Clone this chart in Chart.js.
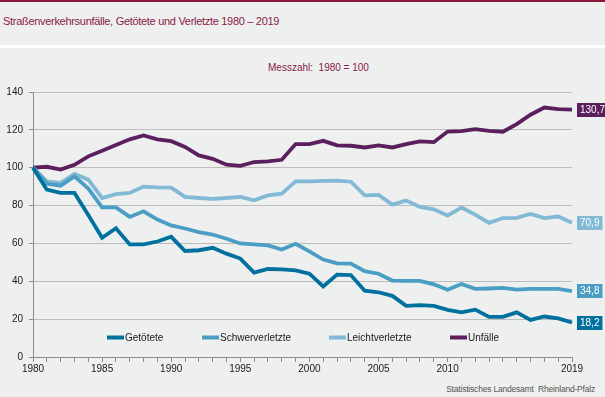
<!DOCTYPE html>
<html lang="de">
<head>
<meta charset="utf-8">
<script src="https://cdn.jsdelivr.net/npm/chart.js@4.4.1/dist/chart.umd.min.js"></script>
<style>
  html, body { margin: 0; padding: 0; }
  body { width: 605px; height: 397px; background: #eeefef; position: relative; overflow: hidden;
         font-family: "Liberation Sans", Arial, sans-serif; }
  #topbar { position: absolute; left: 0; top: 0; width: 605px; height: 2px; background: #8a1a3c; }
  #title { position: absolute; left: 3px; top: 15px; font-size: 11px; letter-spacing: -0.3px; color: #8a1a45; white-space: nowrap; }
  #sep { position: absolute; left: 0; top: 45px; width: 605px; height: 3px; background: #ffffff; }
  #sub { position: absolute; left: 268px; top: 62px; font-size: 10px; color: #8a1a45; white-space: nowrap; }
  #src { position: absolute; right: 10px; top: 384px; font-size: 8.5px; letter-spacing: -0.2px; color: #555; white-space: nowrap; }
  canvas { position: absolute; left: 0; top: 0; }
</style>
</head>
<body>
<div id="topbar"></div>
<div id="title">Straßenverkehrsunfälle, Getötete und Verletzte 1980 – 2019</div>
<div id="sep"></div>
<div id="sub">Messzahl:&nbsp; 1980 = 100</div>
<div id="src">Statistisches Landesamt&nbsp; Rheinland-Pfalz</div>
<canvas id="chart" width="605" height="397"></canvas>
<script>
// Jahre 1980 - 2019, Messzahl 1980 = 100
const years = [];
for (let y = 1980; y <= 2019; y++) years.push(y);

const seriesNames = ['Getötete', 'Schwerverletzte', 'Leichtverletzte', 'Unfälle'];

const getoetete = [100, 88.4, 86.7, 86.7, 75, 63, 68, 59.5, 59.5, 61,
  63.5, 56, 56.4, 57.7, 54.6, 52, 44.6, 46.5, 46.3, 45.8,
  44, 37.3, 43.5, 43.3, 35, 34.2, 32.3, 27, 27.4, 27,
  24.9, 23.6, 25, 21.2, 21.2, 23.6, 19.6, 21.4, 20.4, 18.2];

const schwerverletzte = [100, 91.6, 90.5, 95.4, 89, 79, 79, 74, 77, 72.6,
  69.5, 67.9, 66, 64.7, 62.5, 60, 59.5, 59, 56.8, 59.8,
  55.8, 51.5, 49.5, 49.3, 45.4, 44, 40.4, 40.2, 40.2, 38.4,
  35.5, 38.6, 36, 36.2, 36.5, 35.6, 36, 36, 36, 34.8];

const leichtverletzte = [100, 92.8, 92, 96.7, 93.7, 84, 86, 86.7, 90, 89.6,
  89.5, 84.6, 84, 83.5, 84, 84.6, 82.8, 85.4, 86.3, 92.8,
  92.8, 93, 93.2, 92.6, 85.4, 85.6, 80.5, 82.7, 79.3, 78,
  74.7, 79, 75.2, 70.9, 73.4, 73.5, 75.6, 73.4, 74.2, 70.9];

const unfaelle = [100, 100.5, 99, 101.5, 106, 109, 112, 115, 117, 115,
  114, 111, 106.5, 104.7, 101.6, 101, 103, 103.3, 104.2, 112.5,
  112.5, 114.2, 111.8, 111.6, 110.7, 111.8, 110.7, 112.5, 113.9, 113.5,
  119.1, 119.3, 120.4, 119.5, 119, 123, 128, 131.8, 130.9, 130.7];

const yTicks = [0, 20, 40, 60, 80, 100, 120, 140];
const xLabelYears = [1980, 1985, 1990, 1995, 2000, 2005, 2010, 2019];

const colors = ['#00709f', '#4a9ec3', '#82bad6', '#5b1f5e'];
const font = '"Liberation Sans", Arial, sans-serif';

// Werte am rechten Rand
const endLabels = {
  id: 'endLabels',
  afterDatasetsDraw(chart) {
    const ctx = chart.ctx;
    ctx.save();
    ctx.font = '10px ' + font;
    ctx.textBaseline = 'middle';
    chart.data.datasets.forEach((ds, i) => {
      const meta = chart.getDatasetMeta(i);
      const pt = meta.data[meta.data.length - 1];
      const txt = ds.data[ds.data.length - 1].toFixed(1).replace('.', ',');
      const w = ctx.measureText(txt).width + 6;
      const x0 = chart.chartArea.right + 5;
      ctx.fillStyle = ds.borderColor;
      ctx.fillRect(x0, Math.round(pt.y) - 7, w, 14);
      ctx.fillStyle = '#ffffff';
      ctx.textAlign = 'left';
      ctx.fillText(txt, x0 + 3, Math.round(pt.y) + 0.5);
    });
    ctx.restore();
  }
};

// Legende im Diagramm
const innerLegend = {
  id: 'innerLegend',
  afterDatasetsDraw(chart) {
    const ctx = chart.ctx;
    const xs = [107, 202, 329, 450];
    const y = 337.5;
    ctx.save();
    ctx.font = '10px ' + font;
    ctx.textBaseline = 'middle';
    ctx.textAlign = 'left';
    chart.data.datasets.forEach((ds, i) => {
      ctx.fillStyle = ds.borderColor;
      ctx.fillRect(xs[i], y - 2, 17, 4);
      ctx.fillStyle = '#1a1a1a';
      ctx.fillText(ds.label, xs[i] + 18, y + 0.5);
    });
    ctx.restore();
  }
};

const series = [getoetete, schwerverletzte, leichtverletzte, unfaelle];

new Chart(document.getElementById('chart'), {
  type: 'line',
  data: {
    labels: years,
    datasets: series.map((d, i) => ({
      label: seriesNames[i],
      data: d,
      borderColor: colors[i],
      backgroundColor: colors[i],
      borderWidth: 3.8,
      pointRadius: 0,
      tension: 0,
      fill: false,
      clip: false
    }))
  },
  options: {
    responsive: false,
    animation: false,
    devicePixelRatio: 1,
    layout: { padding: { left: 0, right: 33, top: 92, bottom: 20 } },
    plugins: { legend: { display: false }, tooltip: { enabled: false } },
    scales: {
      x: {
        type: 'category',
        offset: false,
        afterFit(scale) { scale.height = 20; },
        grid: { drawOnChartArea: false, tickLength: 5, color: '#8c8c8c' },
        border: { color: '#8c8c8c' },
        ticks: {
          autoSkip: false, maxRotation: 0, padding: 1,
          color: '#1a1a1a', font: { family: font, size: 10 },
          callback(v, idx) {
            const yr = years[idx];
            return xLabelYears.includes(yr) ? String(yr) : '';
          }
        }
      },
      y: {
        min: 0, max: 140,
        afterFit(scale) { scale.width = 33; },
        afterBuildTicks(scale) { scale.ticks = yTicks.map(v => ({ value: v })); },
        grid: { color: '#bdbdbd', tickLength: 4, tickColor: '#8c8c8c' },
        border: { color: '#8c8c8c' },
        ticks: { padding: 6, color: '#1a1a1a', font: { family: font, size: 10 } }
      }
    }
  },
  plugins: [endLabels, innerLegend]
});
</script>
</body>
</html>
